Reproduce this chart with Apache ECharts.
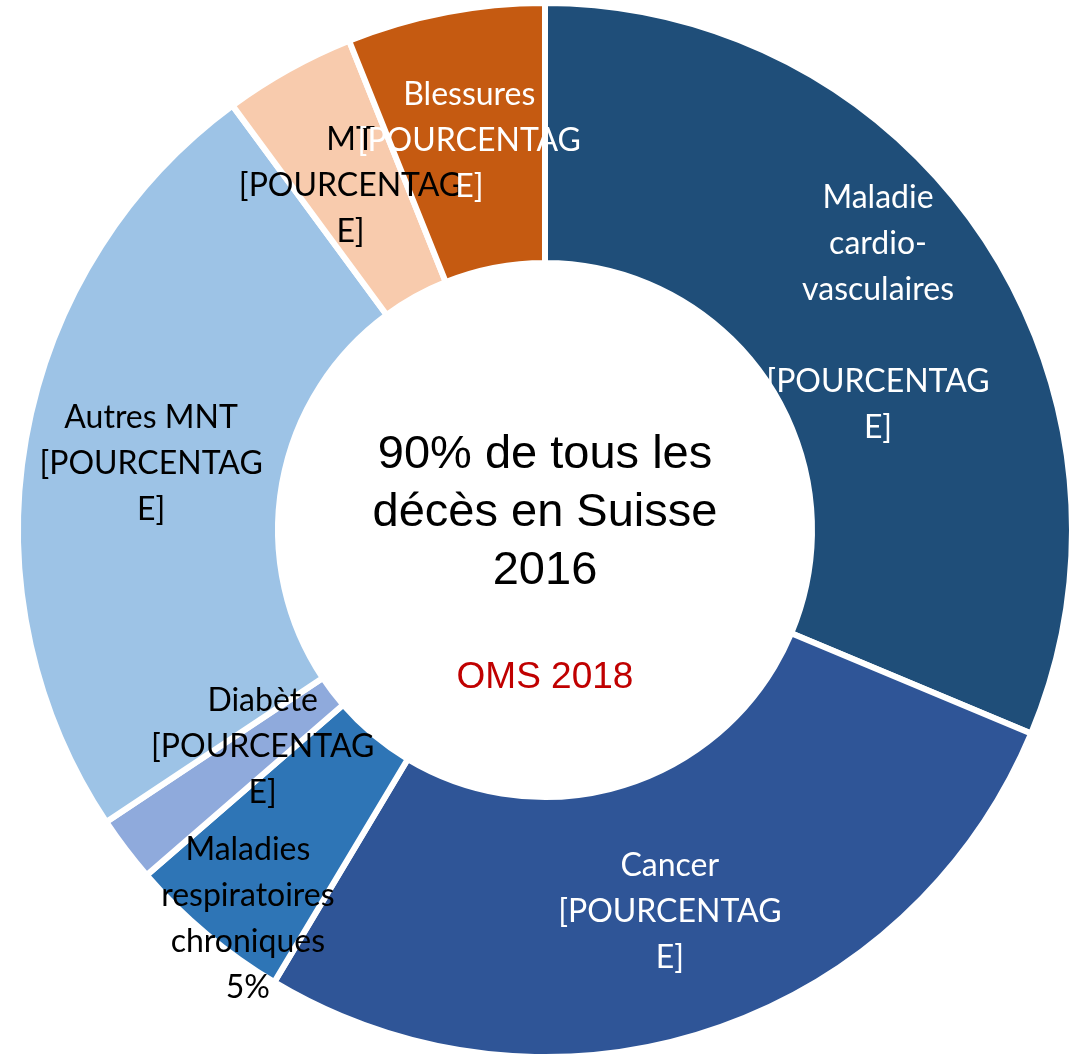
<!DOCTYPE html>
<html>
<head>
<meta charset="utf-8">
<style>
  html, body { margin: 0; padding: 0; background: #fff; }
  #chart { width: 1076px; height: 1055px; }
</style>
<script src="https://cdn.jsdelivr.net/npm/echarts@6/dist/echarts.min.js"></script>
</head>
<body>
<div id="chart"></div>
<script>
const categories = [
  "Maladie cardio-vasculaires",
  "Cancer",
  "Maladies respiratoires chroniques",
  "Diabète",
  "Autres MNT",
  "MT",
  "Blessures"
]
const values = [31, 27, 5, 2, 24, 4, 6]
const labelTexts = [
  "Maladie\ncardio-\nvasculaires\n\n[POURCENTAG\nE]",
  "Cancer\n[POURCENTAG\nE]",
  "Maladies\nrespiratoires\nchroniques\n5%",
  "Diabète\n[POURCENTAG\nE]",
  "Autres MNT\n[POURCENTAG\nE]",
  "MT\n[POURCENTAG\nE]",
  "Blessures\n[POURCENTAG\nE]"
]
const colors = ["#1F4E79", "#2F5597", "#2E75B6", "#8FAADC", "#9DC3E6", "#F8CBAD", "#C55A11"]
const labelColors = ["#fff", "#fff", "#000", "#000", "#000", "#000", "#fff"]
// Excel moved a couple of labels off the slice centre
const labelShift = [[0, 4], [0, 2], [-40, 82], [36, -26], [0, 3], [0, 5], [0, 3]]

const chart = echarts.init(document.getElementById("chart"))

const option = {
  backgroundColor: "#fff",
  animation: false,
  graphic: [
    {
      type: "text",
      x: 545,
      y: 513,
      style: {
        text: "90% de tous les\ndécès en Suisse\n2016",
        font: '47px "Liberation Sans", Arial, sans-serif',
        lineHeight: 58,
        fill: "#000",
        align: "center",
        verticalAlign: "middle"
      }
    },
    {
      type: "text",
      x: 545,
      y: 678,
      style: {
        text: "OMS 2018",
        font: '37px "Liberation Sans", Arial, sans-serif',
        fill: "#C00000",
        align: "center",
        verticalAlign: "middle"
      }
    }
  ],
  series: [
    {
      type: "pie",
      center: [545, 530],
      radius: [267, 527],
      startAngle: 90,
      clockwise: true,
      avoidLabelOverlap: false,
      itemStyle: {
        borderColor: "#fff",
        borderWidth: 6
      },
      label: {
        show: true,
        position: "inside",
        fontFamily: "Lato",
        fontSize: 32,
        lineHeight: 46,
        align: "center",
        verticalAlign: "middle"
      },
      labelLayout: (params) => ({
        hideOverlap: false,
        dx: labelShift[params.dataIndex][0],
        dy: labelShift[params.dataIndex][1]
      }),
      labelLine: { show: false },
      emphasis: { disabled: true },
      data: categories.map((name, i) => ({
        name,
        value: values[i],
        itemStyle: { color: colors[i] },
        label: {
          formatter: labelTexts[i],
          color: labelColors[i]
        }
      }))
    }
  ]
}

chart.setOption(option)
</script>
</body>
</html>
